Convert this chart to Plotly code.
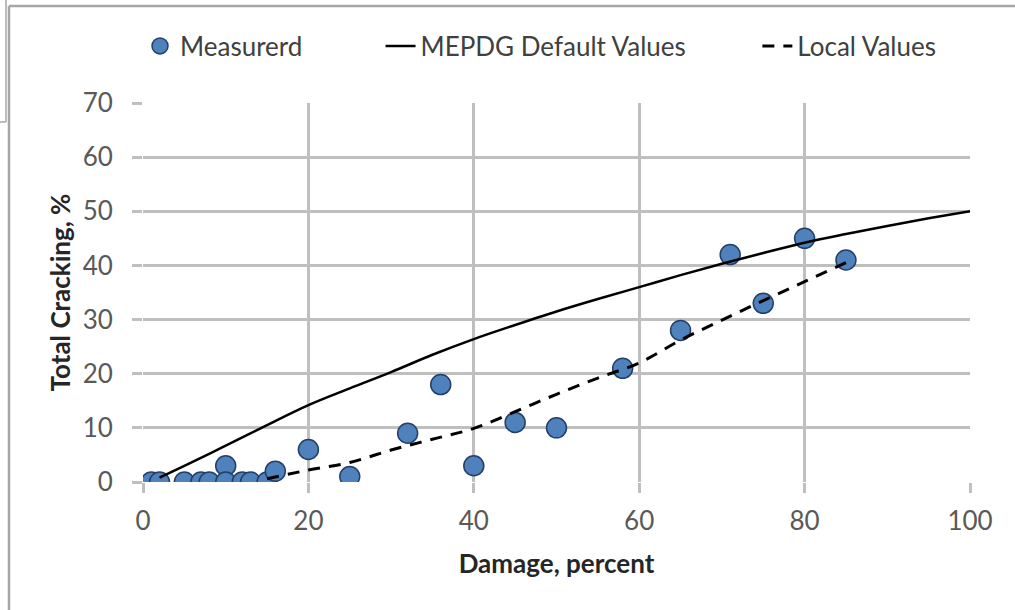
import plotly.graph_objects as go

# Measured data
meas_x = [1, 2, 5, 7, 8, 10, 10, 12, 13, 15, 16, 20, 25, 32, 36, 40, 45, 50, 58, 65, 71, 75, 80, 85]
meas_y = [0, 0, 0, 0, 0, 3, 0, 0, 0, 0, 2, 6, 1, 9, 18, 3, 11, 10, 21, 28, 42, 33, 45, 41]

# MEPDG default values curve
mepdg_x = [2, 5, 10, 15, 20, 25, 30, 35, 40, 45, 50, 55, 60, 65, 70, 75, 80, 85, 90, 95, 100]
mepdg_y = [0.8, 3.0, 6.7, 10.5, 14.2, 17.3, 20.3, 23.5, 26.4, 29.0, 31.5, 33.8, 36.0, 38.2, 40.3, 42.3, 44.2, 45.8, 47.3, 48.7, 50.0]

# Local values curve
local_x = [15, 20, 25, 30, 35, 40, 45, 50, 55, 60, 65, 70, 75, 80, 85]
local_y = [0.6, 2.2, 3.6, 5.9, 7.9, 9.9, 13.0, 16.2, 19.2, 22.0, 26.2, 29.9, 33.5, 37.0, 40.5]

x_ticks = [0, 20, 40, 60, 80, 100]
y_ticks = [0, 10, 20, 30, 40, 50, 60, 70]

series_names = ["Measurerd", "MEPDG Default Values", "Local Values"]

FONT = "Lato, 'Open Sans', sans-serif"
NB = "\u00a0"

fig = go.Figure()
fig.add_trace(go.Scatter(
    x=meas_x, y=meas_y, mode="markers", name=series_names[0] + NB * 11,
    marker=dict(size=20, color="#4f81bd", line=dict(color="#243f66", width=1.5)),
))
fig.add_trace(go.Scatter(
    x=mepdg_x, y=mepdg_y, mode="lines", name=series_names[1] + NB * 10,
    line=dict(color="#000000", width=2.5, shape="spline"),
))
fig.add_trace(go.Scatter(
    x=local_x, y=local_y, mode="lines", name=series_names[2],
    line=dict(color="#000000", width=3, dash="12px,9px", shape="spline"),
))

grid = "#bfbfbf"
W, H = 1015, 610
L, R, T, B = 143, 45, 103, 128
pw, ph = W - L - R, H - T - B


def px_x(p):
    return (p - L) / pw


def px_y(p):
    return (H - B - p) / ph


fig.update_layout(
    width=W, height=H,
    margin=dict(l=L, r=R, t=T, b=B),
    paper_bgcolor="white", plot_bgcolor="white",
    font=dict(family=FONT, color="#595959", size=26),
    showlegend=True,
    legend=dict(
        orientation="h", x=px_x(140), xanchor="left", y=px_y(46), yanchor="middle",
        font=dict(family=FONT, size=26, color="#404040"),
        traceorder="normal", bgcolor="rgba(0,0,0,0)",
    ),
    xaxis=dict(
        range=[0, 100], tickvals=x_ticks, ticktext=[str(v) for v in x_ticks],
        showgrid=True, gridcolor=grid, gridwidth=2.5,
        zeroline=False, showline=False,
        ticks="outside", ticklen=10, tickcolor=grid, tickwidth=2.5,
        ticklabelstandoff=6,
        tickfont=dict(size=26, color="#595959"),
        title=dict(text="<b>Damage, percent</b>", font=dict(size=26, color="#262626"), standoff=19),
    ),
    yaxis=dict(
        range=[0, 70], tickvals=y_ticks, ticktext=[str(v) for v in y_ticks],
        showgrid=True, gridcolor=grid, gridwidth=2.5,
        zeroline=False, showline=False,
        ticks="outside", ticklen=10, tickcolor=grid, tickwidth=2.5,
        ticklabelstandoff=14,
        tickfont=dict(size=26, color="#595959"),
        title=dict(text="<b>Total Cracking, %</b>", font=dict(size=26, color="#262626"), standoff=4),
    ),
)

# outer frame remnants (figure border)
frame = dict(color="#a6a6a6", width=2.5)
fig.add_shape(type="line", xref="paper", yref="paper", x0=px_x(9), x1=px_x(1015),
              y0=px_y(6), y1=px_y(6), line=frame)
fig.add_shape(type="line", xref="paper", yref="paper", x0=px_x(9), x1=px_x(9),
              y0=px_y(6), y1=px_y(612), line=frame)
fig.add_shape(type="line", xref="paper", yref="paper", x0=px_x(6), x1=px_x(6),
              y0=px_y(-2), y1=px_y(122), line=dict(color="#a6a6a6", width=1.5))
fig.add_shape(type="line", xref="paper", yref="paper", x0=px_x(-2), x1=px_x(6),
              y0=px_y(122), y1=px_y(122), line=dict(color="#a6a6a6", width=1.5))

fig.write_html("out.html")
